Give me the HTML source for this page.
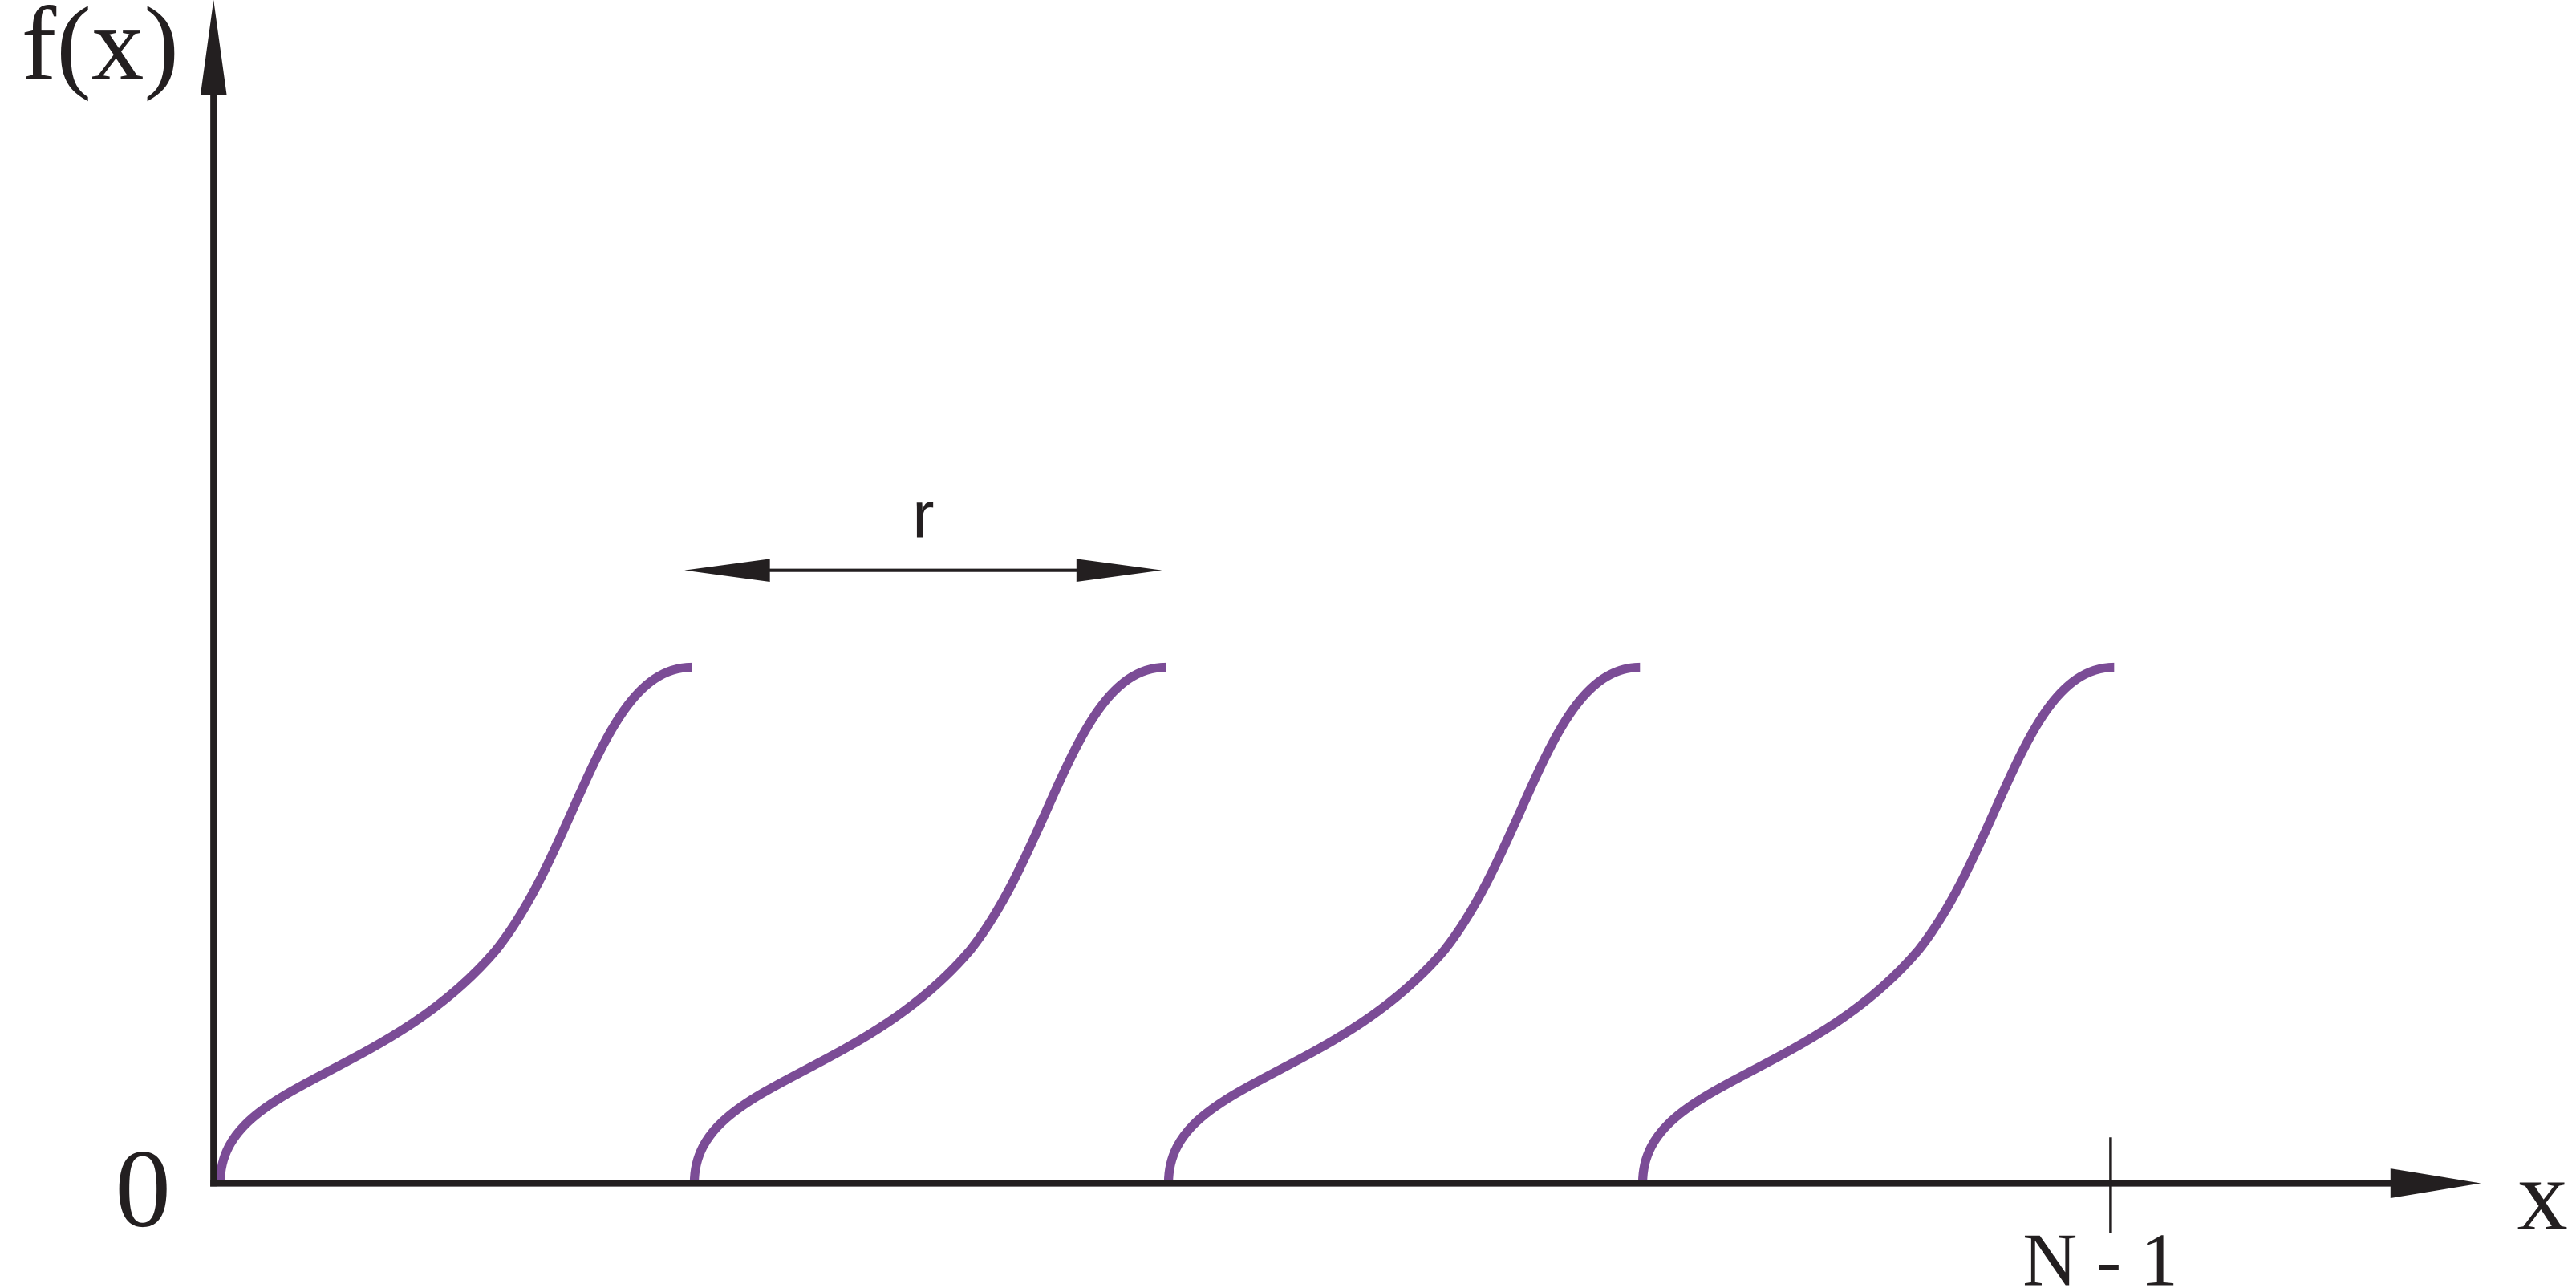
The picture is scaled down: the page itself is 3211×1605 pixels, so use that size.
<!DOCTYPE html>
<html><head><meta charset="utf-8"><style>html,body{margin:0;padding:0;background:#fff}svg{display:block}</style></head>
<body>
<svg xmlns="http://www.w3.org/2000/svg" width="3211" height="1605" viewBox="0 0 1567.9 783.7">
<g id="curves"></g>
<line x1="130" y1="40" x2="130" y2="722" stroke="#231f20" stroke-width="4"/>
<polygon points="130,0 122,58 138,58" fill="#231f20"/>
<line x1="128" y1="720" x2="1470" y2="720" stroke="#231f20" stroke-width="4"/>
<polygon points="1510,720 1455,711 1455,729" fill="#231f20"/>
<line id="tick" x1="1284" y1="692" x2="1284" y2="750" stroke="#231f20" stroke-width="1.2"/>
<line id="rline" y1="347" y2="347" stroke="#231f20" stroke-width="2"/>
<polygon id="rleft" fill="#231f20"/>
<polygon id="rright" fill="#231f20"/>
<text x="562" y="327" font-family="Liberation Sans, sans-serif" font-size="40" text-anchor="middle" fill="#231f20">r</text>
<text x="13" y="48" font-family="Liberation Serif, serif" font-size="64" fill="#231f20">f(x)</text>
<text x="70" y="746" font-family="Liberation Serif, serif" font-size="68" fill="#231f20">0</text>
<text x="1532" y="748" font-family="Liberation Serif, serif" font-size="62" fill="#231f20">x</text>
<text id="nlabel" y="782" font-family="Liberation Serif, serif" font-size="46" text-anchor="middle" fill="#231f20">N - 1</text>
<script>
const periodStarts = [0, 1, 2, 3];
const periodLength = [1];
const tickValues = [4];
const x0 = 130, unit = 288.6, y0 = 720;
function sx(v){ return x0 + v*unit; }
const g = document.getElementById('curves');
periodStarts.forEach(function(p, i){
  const s = sx(p) + 4;
  const path = document.createElementNS('http://www.w3.org/2000/svg','path');
  path.setAttribute('d', 'M'+s+' '+y0+' C'+s+' '+(y0-62)+' '+(s+100)+' '+(y0-62)+' '+(s+168)+' '+(y0-142)+
    ' C'+(s+218)+' '+(y0-205)+' '+(s+232)+' '+(y0-314)+' '+(s+287)+' '+(y0-314));
  path.setAttribute('fill','none');
  path.setAttribute('stroke','#7b4c96');
  path.setAttribute('stroke-width','5.5');
  
  
  g.appendChild(path);
});
const a = sx(1) - 2, b = sx(1) + periodLength[0]*unit;
document.getElementById('rline').setAttribute('x1', a+40);
document.getElementById('rline').setAttribute('x2', b-40);
document.getElementById('rleft').setAttribute('points', a+',347 '+(a+52)+',340 '+(a+52)+',354');
document.getElementById('rright').setAttribute('points', b+',347 '+(b-52)+',340 '+(b-52)+',354');
const tx = sx(tickValues[0]);
document.getElementById('tick').setAttribute('x1', tx);
document.getElementById('tick').setAttribute('x2', tx);
document.getElementById('nlabel').setAttribute('x', tx-6);
</script>
</svg>
</body></html>
